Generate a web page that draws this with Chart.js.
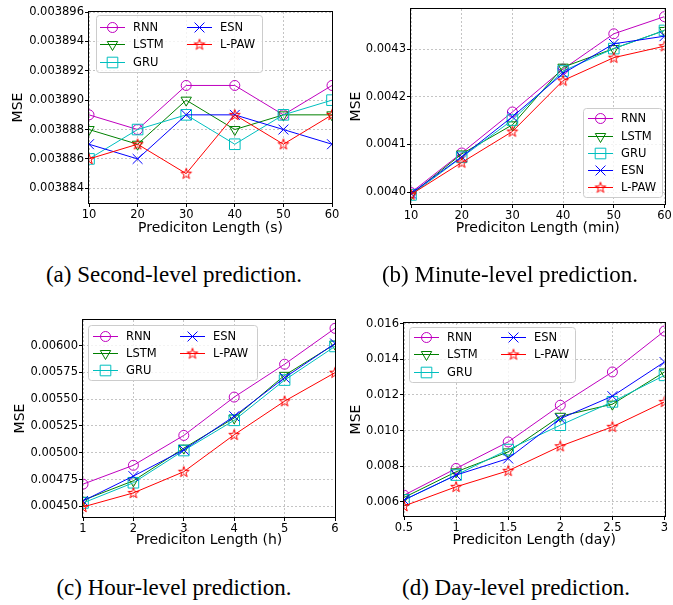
<!DOCTYPE html>
<html><head><meta charset="utf-8">
<script src="https://cdn.jsdelivr.net/npm/chart.js@4.4.1/dist/chart.umd.min.js"></script>
<style>
html,body{margin:0;padding:0;background:#fff}
body{width:673px;height:605px;position:relative;overflow:hidden}
canvas{position:absolute}
.cap{position:absolute;font-family:"Liberation Serif",serif;font-size:23px;color:#000;white-space:nowrap;transform:translate(-50%,-50%)}
</style></head><body>
<canvas id="ca" width="350" height="240" style="left:0;top:0"></canvas>
<canvas id="cb" width="337" height="240" style="left:336px;top:0"></canvas>
<canvas id="cc" width="350" height="245" style="left:0;top:305px"></canvas>
<canvas id="cd" width="337" height="245" style="left:336px;top:305px"></canvas>
<div class="cap" style="left:174px;top:275px">(a) Second-level prediction.</div>
<div class="cap" style="left:510px;top:275px">(b) Minute-level prediction.</div>
<div class="cap" style="left:174px;top:588px">(c) Hour-level prediction.</div>
<div class="cap" style="left:516px;top:588px">(d) Day-level prediction.</div>
<script>
// ---------- data ----------
const modelNames = ['RNN', 'LSTM', 'GRU', 'ESN', 'L-PAW'];

// (a) second-level
const secLabels = ['10', '20', '30', '40', '50', '60'];
const secRNN  = [0.003889, 0.003888, 0.003891, 0.003891, 0.003889, 0.003891];
const secLSTM = [0.003888, 0.003887, 0.003890, 0.003888, 0.003889, 0.003889];
const secGRU  = [0.003886, 0.003888, 0.003889, 0.003887, 0.003889, 0.003890];
const secESN  = [0.003887, 0.003886, 0.003889, 0.003889, 0.003888, 0.003887];
const secLPAW = [0.003886, 0.003887, 0.003885, 0.003889, 0.003887, 0.003889];
const secYTicks = [0.003884, 0.003886, 0.003888, 0.003890, 0.003892, 0.003894, 0.003896];
const secYTickLabels = ['0.003884', '0.003886', '0.003888', '0.003890', '0.003892', '0.003894', '0.003896'];

// (b) minute-level
const minLabels = ['10', '20', '30', '40', '50', '60'];
const minRNN  = [0.003999, 0.004082, 0.004168, 0.004258, 0.004332, 0.004368];
const minLSTM = [0.003995, 0.004080, 0.004141, 0.004262, 0.004301, 0.004339];
const minGRU  = [0.003994, 0.004073, 0.004151, 0.004254, 0.004301, 0.004339];
const minESN  = [0.003997, 0.004074, 0.004158, 0.004249, 0.004311, 0.004327];
const minLPAW = [0.003995, 0.004062, 0.004127, 0.004234, 0.004282, 0.004306];
const minYTicks = [0.0040, 0.0041, 0.0042, 0.0043];
const minYTickLabels = ['0.0040', '0.0041', '0.0042', '0.0043'];

// (c) hour-level
const hourLabels = ['1', '2', '3', '4', '5', '6'];
const hourRNN  = [0.004707, 0.004883, 0.005162, 0.005520, 0.005827, 0.006162];
const hourLSTM = [0.004556, 0.004738, 0.005043, 0.005325, 0.005723, 0.006015];
const hourGRU  = [0.004531, 0.004720, 0.005021, 0.005303, 0.005679, 0.005993];
const hourESN  = [0.004550, 0.004782, 0.005027, 0.005341, 0.005701, 0.006021];
const hourLPAW = [0.004494, 0.004625, 0.004823, 0.005168, 0.005482, 0.005748];
const hourYTicks = [0.00450, 0.00475, 0.00500, 0.00525, 0.00550, 0.00575, 0.00600];
const hourYTickLabels = ['0.00450', '0.00475', '0.00500', '0.00525', '0.00550', '0.00575', '0.00600'];

// (d) day-level
const dayLabels = ['0.5', '1', '1.5', '2', '2.5', '3'];
const dayRNN  = [0.00637, 0.00787, 0.00936, 0.01142, 0.01329, 0.01559];
const dayLSTM = [0.00624, 0.00768, 0.00880, 0.01080, 0.01148, 0.01329];
const dayGRU  = [0.00610, 0.00750, 0.00893, 0.01030, 0.01161, 0.01310];
const dayESN  = [0.00610, 0.00750, 0.00843, 0.01067, 0.01193, 0.01385];
const dayLPAW = [0.00576, 0.00684, 0.00774, 0.00912, 0.01021, 0.01161];
const dayYTicks = [0.006, 0.008, 0.010, 0.012, 0.014, 0.016];
const dayYTickLabels = ['0.006', '0.008', '0.010', '0.012', '0.014', '0.016'];

// ---------- styles ----------
Chart.defaults.font.family = '"DejaVu Sans", sans-serif';
Chart.defaults.color = '#000';

function makeStar(color) {
  const c = document.createElement('canvas');
  c.width = 14; c.height = 14;
  const g = c.getContext('2d');
  const R = 5.6, r = 2.2, cx = 7, cy = 7.3;
  g.beginPath();
  for (let k = 0; k < 10; k++) {
    const rad = (k % 2 === 0 ? R : r);
    const a = -Math.PI / 2 + k * Math.PI / 5;
    const px = cx + rad * Math.cos(a), py = cy + rad * Math.sin(a);
    if (k === 0) g.moveTo(px, py); else g.lineTo(px, py);
  }
  g.closePath();
  g.strokeStyle = color; g.lineWidth = 1; g.stroke();
  return c;
}

const seriesStyles = [
  { color: '#bf00bf', pointStyle: 'circle', radius: 5, rotation: 0 },
  { color: '#008000', pointStyle: 'triangle', radius: 6, rotation: 180 },
  { color: '#00bfbf', pointStyle: 'rect', radius: 7.5, rotation: 0 },
  { color: '#0000ff', pointStyle: 'crossRot', radius: 7, rotation: 0 },
  { color: '#ff0000', pointStyle: makeStar('#ff0000'), radius: 6, rotation: 0 }
];

function buildDatasets(series) {
  return series.map((vals, i) => ({
    label: modelNames[i],
    data: vals,
    borderColor: seriesStyles[i].color,
    backgroundColor: seriesStyles[i].color,
    borderWidth: 1,
    pointStyle: seriesStyles[i].pointStyle,
    pointRadius: seriesStyles[i].radius,
    pointRotation: seriesStyles[i].rotation,
    pointBorderColor: seriesStyles[i].color,
    pointBackgroundColor: 'rgba(0,0,0,0)',
    pointBorderWidth: 1,
    tension: 0,
    clip: 0,
    order: series.length - i
  }));
}

function framePlugin() {
  return {
    id: 'mplFrame',
    afterDraw(chart) {
      const a = chart.chartArea, ctx = chart.ctx;
      const l = Math.round(a.left), t = Math.round(a.top), r = Math.round(a.right), b = Math.round(a.bottom);
      ctx.save();
      ctx.setLineDash([]);
      ctx.strokeStyle = '#000'; ctx.lineWidth = 1;
      ctx.strokeRect(l - 0.5, t - 0.5, r - l + 1, b - t + 1);
      ctx.restore();
    }
  };
}

function legendPlugin(L) {
  return {
    id: 'mplLegend',
    afterDraw(chart) {
      const ctx = chart.ctx;
      ctx.save();
      ctx.setLineDash([]);
      const x = L.box[0] + 0.5, y = L.box[1] + 0.5, w = L.box[2], h = L.box[3], rr = 3;
      ctx.beginPath();
      ctx.moveTo(x + rr, y);
      ctx.lineTo(x + w - rr, y); ctx.quadraticCurveTo(x + w, y, x + w, y + rr);
      ctx.lineTo(x + w, y + h - rr); ctx.quadraticCurveTo(x + w, y + h, x + w - rr, y + h);
      ctx.lineTo(x + rr, y + h); ctx.quadraticCurveTo(x, y + h, x, y + h - rr);
      ctx.lineTo(x, y + rr); ctx.quadraticCurveTo(x, y, x + rr, y);
      ctx.closePath();
      ctx.fillStyle = 'rgba(255,255,255,0.8)'; ctx.fill();
      ctx.strokeStyle = '#cccccc'; ctx.lineWidth = 1; ctx.stroke();
      chart.data.datasets.forEach((ds, i) => {
        const lx = L.items[i][0], ly = L.items[i][1] + 0.5;
        ctx.strokeStyle = ds.borderColor; ctx.lineWidth = 1;
        ctx.beginPath(); ctx.moveTo(lx, ly); ctx.lineTo(lx + 25, ly); ctx.stroke();
        ctx.fillStyle = 'rgba(0,0,0,0)';
        Chart.helpers.drawPoint(ctx, {
          pointStyle: ds.pointStyle, radius: ds.pointRadius,
          rotation: ds.pointRotation, borderWidth: 1
        }, lx + 12.5, ly);
        ctx.fillStyle = '#000';
        ctx.font = '11.5px "DejaVu Sans"';
        ctx.textBaseline = 'middle'; ctx.textAlign = 'left';
        ctx.fillText(ds.label, lx + 33, ly + 0.5);
      });
      ctx.restore();
    }
  };
}

function makeChart(id, cfg) {
  return new Chart(document.getElementById(id), {
    type: 'line',
    data: { labels: cfg.labels, datasets: buildDatasets(cfg.series) },
    options: {
      responsive: false,
      animation: false,
      events: [],
      layout: { padding: cfg.pad },
      plugins: { legend: { display: false }, tooltip: { enabled: false } },
      scales: {
        x: {
          type: 'category', offset: false,
          grid: { color: '#c4c4c4', lineWidth: 1, drawTicks: true, tickLength: 4, tickColor: '#000', tickWidth: 1, offset: false },
          border: { display: false, dash: [2, 2] },
          ticks: { font: { size: 11.5 }, color: '#000', padding: 1, maxRotation: 0, autoSkip: false },
          title: { display: true, text: cfg.xTitle, font: { size: 14 }, color: '#000', padding: { top: 0, bottom: cfg.xTitlePad } },
          afterFit: s => { s.height = cfg.xH; s.paddingLeft = 0; s.paddingRight = 0; }
        },
        y: {
          type: 'linear', min: cfg.yMin, max: cfg.yMax,
          afterBuildTicks: s => { s.ticks = cfg.yTicks.map(v => ({ value: v })); },
          grid: { color: '#c4c4c4', lineWidth: 1, drawTicks: true, tickLength: 4, tickColor: '#000', tickWidth: 1 },
          border: { display: false, dash: [2, 2] },
          ticks: { font: { size: 11.5 }, color: '#000', padding: 1, callback: (v, i) => cfg.yTickLabels[i] },
          title: { display: true, text: 'MSE', font: { size: 14 }, color: '#000', padding: { top: cfg.yTitlePad, bottom: 0 } },
          afterFit: s => { s.width = cfg.yW; s.paddingTop = 0; s.paddingBottom = 0; }
        }
      }
    },
    plugins: [framePlugin(), legendPlugin(cfg.legend)]
  });
}

makeChart('ca', {
  labels: secLabels,
  series: [secRNN, secLSTM, secGRU, secESN, secLPAW],
  yMin: 0.003883, yMax: 0.003896, yTicks: secYTicks, yTickLabels: secYTickLabels,
  xTitle: 'Prediciton Length (s)',
  pad: { left: 0, top: 12, right: 18, bottom: 0 }, yW: 89, xH: 37, xTitlePad: 3.6, yTitlePad: 9.6,
  legend: { box: [96, 15, 166, 57], items: [[100, 27], [100, 44], [100, 62], [187, 27], [187, 44]] }
});

makeChart('cb', {
  labels: minLabels,
  series: [minRNN, minLSTM, minGRU, minESN, minLPAW],
  yMin: 0.003975, yMax: 0.004384, yTicks: minYTicks, yTickLabels: minYTickLabels,
  xTitle: 'Prediciton Length (min)',
  pad: { left: 0, top: 9, right: 5, bottom: 0 }, yW: 75, xH: 36, xTitlePad: 3.6, yTitlePad: 11.6,
  legend: { box: [247, 108, 79, 89], items: [[252, 118], [252, 136], [252, 153], [252, 170], [252, 187]] }
});

makeChart('cc', {
  labels: hourLabels,
  series: [hourRNN, hourLSTM, hourGRU, hourESN, hourLPAW],
  yMin: 0.0044, yMax: 0.00624, yTicks: hourYTicks, yTickLabels: hourYTickLabels,
  xTitle: 'Prediciton Length (h)',
  pad: { left: 0, top: 15, right: 15, bottom: 0 }, yW: 83, xH: 33, xTitlePad: 1.6, yTitlePad: 11.6,
  legend: { box: [88, 20, 169, 55], items: [[93, 31], [93, 48], [93, 65], [180, 31], [180, 48]] }
});

makeChart('cd', {
  labels: dayLabels,
  series: [dayRNN, dayLSTM, dayGRU, dayESN, dayLPAW],
  yMin: 0.0052, yMax: 0.01604, yTicks: dayYTicks, yTickLabels: dayYTickLabels,
  xTitle: 'Prediciton Length (day)',
  pad: { left: 0, top: 18, right: 3, bottom: 0 }, yW: 68, xH: 34, xTitlePad: 1.6, yTitlePad: 11.6,
  legend: { box: [73, 22, 166, 55], items: [[78, 32], [78, 49], [78, 67], [165, 32], [165, 49]] }
});
</script>
</body></html>
